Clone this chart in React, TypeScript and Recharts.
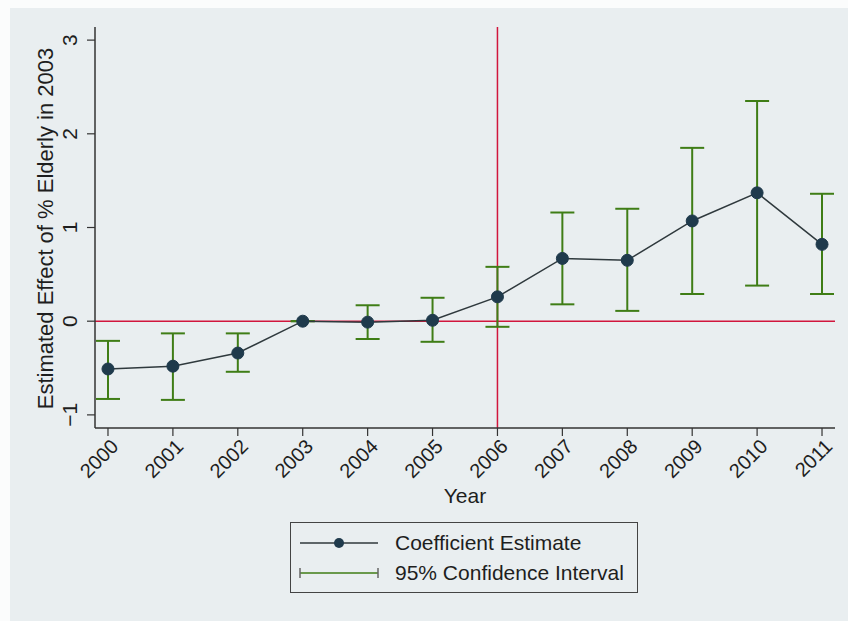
import React from 'react';
import { LineChart, Line, XAxis, YAxis, ErrorBar, ReferenceLine } from 'recharts';

// values
const years = [2000, 2001, 2002, 2003, 2004, 2005, 2006, 2007, 2008, 2009, 2010, 2011];
const estimates = [-0.51, -0.48, -0.34, 0.0, -0.01, 0.01, 0.26, 0.67, 0.65, 1.07, 1.37, 0.82];
const ciLow = [-0.83, -0.84, -0.54, 0.0, -0.19, -0.22, -0.06, 0.18, 0.11, 0.29, 0.38, 0.29];
const ciHigh = [-0.21, -0.13, -0.13, 0.0, 0.17, 0.25, 0.58, 1.16, 1.2, 1.85, 2.35, 1.36];
const yTicks = [-1, 0, 1, 2, 3];
const eventYear = 2006;

const data = years.map((year, i) => ({
  year,
  est: estimates[i],
  err: [estimates[i] - ciLow[i], ciHigh[i] - estimates[i]],
}));

const FONT = '"Liberation Sans", Arial, Helvetica, sans-serif';
const TEXT = '#1e1e1e';
const AXIS = '#333333';
const RED = '#d1163c';
const GREEN = '#3f7d16';
const DOT = '#1f3a4c';

const YTick = (props: any) => {
  const { x, y, payload } = props;
  const tx = x - 8;
  return (
    <text x={tx} y={y} transform={`rotate(-90, ${tx}, ${y})`} textAnchor="middle" fill={TEXT} fontSize={21} fontFamily={FONT}>
      {payload.value < 0 ? '\u2212' + Math.abs(payload.value) : payload.value}
    </text>
  );
};

const XTick = (props: any) => {
  const { x, y, payload } = props;
  const tx = x + 6;
  const ty = y + 4;
  return (
    <text x={tx} y={ty} transform={`rotate(-45, ${tx}, ${ty})`} textAnchor="end" dy={8} fill={TEXT} fontSize={20} fontFamily={FONT}>
      {payload.value}
    </text>
  );
};

const YLabel = (props: any) => {
  const { viewBox } = props;
  const cy = viewBox.y + viewBox.height / 2 + 1;
  return (
    <text x={53} y={cy} transform={`rotate(-90, 53, ${cy})`} textAnchor="middle" fill={TEXT} fontSize={22} fontFamily={FONT}>
      Estimated Effect of % Elderly in 2003
    </text>
  );
};

const LegendBox = () => (
  <div
    style={{
      position: 'absolute',
      left: 290,
      top: 522,
      width: 346,
      height: 69,
      border: '1px solid #444',
      fontFamily: FONT,
      fontSize: 21,
      color: TEXT,
    }}
  >
    <div style={{ position: 'absolute', left: 8, top: 8, display: 'flex', alignItems: 'center' }}>
      <svg width={80} height={24}>
        <line x1={1} y1={12} x2={79} y2={12} stroke="#2f393d" strokeWidth={1.5} />
        <circle cx={40} cy={12} r={5} fill={DOT} />
      </svg>
      <span style={{ marginLeft: 16 }}>Coefficient Estimate</span>
    </div>
    <div style={{ position: 'absolute', left: 8, top: 38, display: 'flex', alignItems: 'center' }}>
      <svg width={80} height={24}>
        <line x1={1} y1={12} x2={79} y2={12} stroke={GREEN} strokeWidth={1.5} />
        <line x1={1} y1={7} x2={1} y2={17} stroke="#666" strokeWidth={1.5} />
        <line x1={79} y1={7} x2={79} y2={17} stroke="#666" strokeWidth={1.5} />
      </svg>
      <span style={{ marginLeft: 16 }}>95% Confidence Interval</span>
    </div>
  </div>
);

export default function App() {
  return (
    <div style={{ position: 'absolute', left: 0, top: 0, width: 848, height: 621, background: '#fbfcfc', overflow: 'hidden' }}>
      <div style={{ position: 'absolute', left: 10, top: 8, right: 0, bottom: 0, background: '#e9eef0' }} />
      <div style={{ position: 'absolute', left: 0, top: 0 }}>
        <LineChart width={848} height={621} data={data} margin={{ top: 27, right: 13, bottom: 100, left: 55 }}>
          <XAxis
            dataKey="year"
            type="number"
            domain={[1999.8, 2011.2]}
            ticks={years}
            allowDataOverflow
            interval={0}
            height={93}
            tick={<XTick />}
            tickSize={8}
            stroke={AXIS}
            axisLine={{ stroke: AXIS, strokeWidth: 1.5 }}
            tickLine={{ stroke: AXIS, strokeWidth: 1.2 }}
            label={{ value: 'Year', position: 'insideBottom', offset: 18, fill: TEXT, fontSize: 21, fontFamily: FONT }}
          />
          <YAxis
            type="number"
            domain={[-1.14, 3.14]}
            ticks={yTicks}
            allowDataOverflow
            width={40}
            tick={<YTick />}
            tickSize={8}
            stroke={AXIS}
            axisLine={{ stroke: AXIS, strokeWidth: 1.5 }}
            tickLine={{ stroke: AXIS, strokeWidth: 1.2 }}
            label={<YLabel />}
          />
          <ReferenceLine y={0} stroke={RED} strokeWidth={1.5} />
          <ReferenceLine x={eventYear} stroke={RED} strokeWidth={1.5} />
          <Line
            dataKey="est"
            stroke="#2f393d"
            strokeWidth={1.5}
            dot={{ r: 6, fill: DOT, stroke: DOT, strokeWidth: 1 }}
            activeDot={false}
            isAnimationActive={false}
          >
            <ErrorBar dataKey="err" direction="y" width={12} stroke={GREEN} strokeWidth={2} isAnimationActive={false} />
          </Line>
        </LineChart>
      </div>
      <LegendBox />
    </div>
  );
}
